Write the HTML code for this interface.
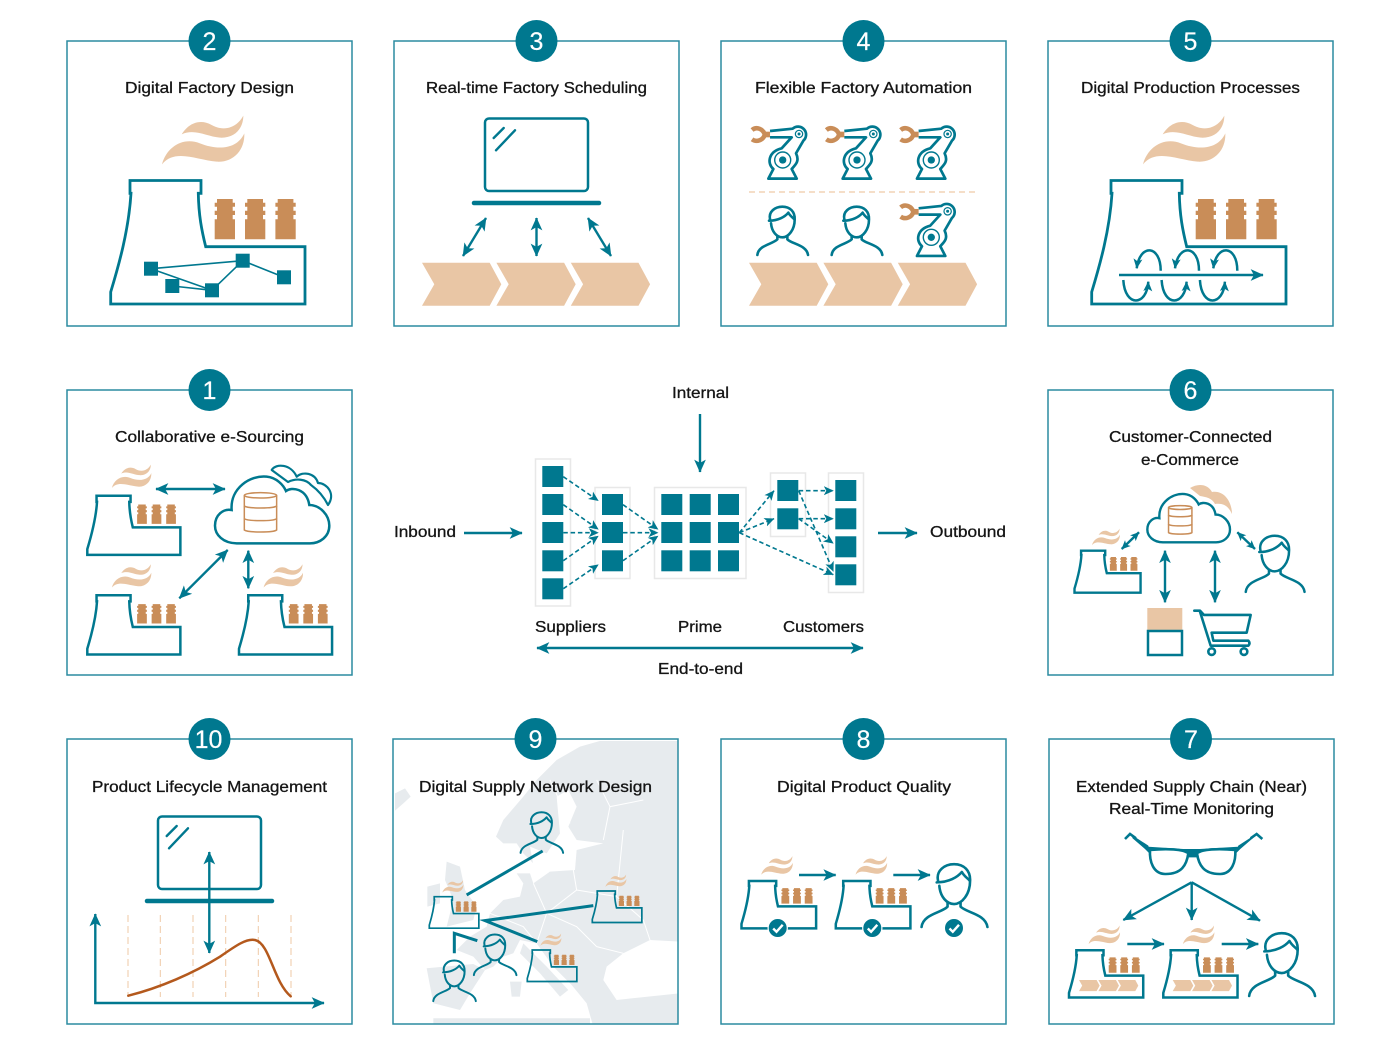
<!DOCTYPE html>
<html><head><meta charset="utf-8"><style>
html,body{margin:0;padding:0;background:#fff}
svg{display:block}
svg *{vector-effect:non-scaling-stroke}
text{font-family:"Liberation Sans",sans-serif;font-size:16px;fill:#141414;stroke:#141414;stroke-width:.3}
.n{fill:#fff;stroke:#fff;stroke-width:.2;font-size:25px;text-anchor:middle}
.p{fill:none;stroke:#2b8ba1;stroke-width:1.5}
.t{fill:none;stroke:#00788f;stroke-width:2.5;stroke-linecap:round;stroke-linejoin:round}
.ar{fill:none;stroke:#00788f;stroke-width:2.4}
.d{fill:none;stroke:#00788f;stroke-width:1.6;stroke-dasharray:4.5 2.8;marker-end:url(#md)}
.fr{fill:#fff;stroke:#e8e8e8;stroke-width:1.5}
.sq{fill:#00788f}
.nt{fill:none;stroke:#00788f;stroke-width:1.6}
.od{fill:none;stroke:#efc9a6;stroke-width:1.2;stroke-dasharray:6 4}
</style></head><body>
<svg xmlns="http://www.w3.org/2000/svg" width="1400" height="1038" viewBox="0 0 1400 1038">
<defs>
<marker id="a" viewBox="0 0 10 10" refX="9.5" refY="5" markerWidth="13" markerHeight="13" markerUnits="userSpaceOnUse" orient="auto-start-reverse"><path d="M0 0.5L10 5L0 9.5L2.5 5Z" fill="#00788f"/></marker>
<marker id="b" viewBox="0 0 10 10" refX="9.5" refY="5" markerWidth="9" markerHeight="9" markerUnits="userSpaceOnUse" orient="auto-start-reverse"><path d="M0 0.5L10 5L0 9.5L2.5 5Z" fill="#00788f"/></marker>
<marker id="md" viewBox="0 0 10 10" refX="9.5" refY="5" markerWidth="10" markerHeight="10" markerUnits="userSpaceOnUse" orient="auto"><path d="M0 0.5L10 5L0 9.5L2.5 5Z" fill="#00788f"/></marker>
<path id="ch" d="M2.3 0H18V3.7H20.3V7.7H18V11.7H20.3V16H18V20.3H20.3V40.3H0V20.3H2.3V16H0V11.7H2.3V7.7H0V3.7H2.3Z" fill="#c98d58" stroke="none"/>
<g id="f">
<g transform="translate(-50.7,-80.5) scale(.3333)" fill="#e9c6a5" stroke="none">
<path d="M365 103C385 70 420 55 455 75C490 95 530 85 550 47C550 85 525 115 480 113C440 110 405 85 365 103Z"/>
<path d="M306 193C320 140 370 110 420 130C470 150 530 150 553 100C555 150 520 188 470 185C410 180 345 145 306 193Z"/>
</g>
<use href="#ch" x="104" y="18.5"/><use href="#ch" x="134.3" y="18.5"/><use href="#ch" x="164.7" y="18.5"/>
<path d="M0 123.5V111.5C8 85 18 50 20.3 12.8H19.3V0H90.3V12.8H87.6C88 35 91 50 95 66.2H194.3V123.5Z" fill="none" stroke="#00788f" stroke-linejoin="miter"/>
</g>
<g id="chev"><path id="c1" d="M0 0H67.7L79.3 21.5L67.7 43H0L12.3 21.5Z" fill="#e9c6a5"/><use href="#c1" x="74.4"/><use href="#c1" x="148.8"/></g>
<g id="robot" transform="scale(.3333) translate(-92,-78)">
<path d="M96 90C110 78 130 88 134 104C130 120 110 128 96 118" fill="none" stroke="#c98d58" stroke-width="4.5"/>
<rect x="130" y="95" width="20" height="17" fill="#c98d58"/>
<path d="M150 93L218 86A24 24 0 1 1 250 122L228 160C240 185 225 195 215 207L230 236H145L160 207C140 190 145 155 185 145L215 112L150 112" fill="none" stroke="#00788f" stroke-width="2.7" stroke-linejoin="round"/>
<circle cx="237" cy="102" r="11" fill="none" stroke="#00788f" stroke-width="1.2"/><circle cx="237" cy="102" r="4.5" fill="#00788f"/>
<circle cx="188" cy="180" r="24" fill="none" stroke="#00788f" stroke-width="1.4"/><circle cx="188" cy="180" r="11" fill="#00788f"/>
</g>
<g id="person" transform="scale(.3333) translate(-110,-318)" fill="none" stroke="#00788f" stroke-linecap="round" stroke-linejoin="round">
<path d="M147 362C175 362 195 350 205 338C210 348 218 352 223 358"/>
<path d="M150 358C145 335 165 320 187 320C210 320 225 335 224 358C224 390 205 412 187 412C170 412 155 395 153 370"/>
<path d="M172 408V418C160 432 115 435 112 465"/>
<path d="M202 408V418C215 432 260 435 264 465"/>
</g>
<g id="laptop"><rect x="485" y="118.5" width="103" height="72.5" rx="4" fill="none" stroke="#00788f" stroke-width="2.5"/><path d="M474 203H599" stroke="#00788f" stroke-width="4.5" stroke-linecap="round"/><path d="M493.7 138L503.7 128M496 150.3L515 130.3" stroke="#00788f" stroke-width="2.4" stroke-linecap="round"/></g>
<g id="cloud"><path d="M500 265C460 265 435 240 435 212C435 180 460 160 485 165C480 100 540 60 590 65C620 68 640 90 648 108C665 95 710 100 718 150C750 150 778 180 778 212C778 245 750 265 720 265Z" fill="none" stroke="#00788f"/>
<g transform="translate(523,113)" fill="none" stroke="#c98d58" stroke-width="1.5"><ellipse cx="48.5" cy="8" rx="48.5" ry="8"/><path d="M0 8V40C10 48 87 48 97 40V8"/><path d="M0 40V78C10 86 87 86 97 78V40"/><path d="M0 78V112C10 120 87 120 97 112V78"/></g></g>
<clipPath id="mapclip"><rect x="393" y="741" width="285" height="283"/></clipPath>
<g id="chk"><circle r="9.6" fill="#00788f" stroke="#fff" stroke-width="1.2"/><path d="M-4.5 .5L-1.2 3.8L5 -3.2" fill="none" stroke="#fff" stroke-width="2.4"/></g>
<g id="loop"><path class="t" style="stroke-linecap:butt" d="M1160.7 270.7C1160.7 245 1140 243 1136.7 268.3" marker-end="url(#md)"/><path class="t" style="stroke-linecap:butt" d="M1123.3 280C1125 308 1147 306 1148.3 281.7" marker-end="url(#md)"/></g>
</defs>

<!-- Map -->
<g clip-path="url(#mapclip)">
<g transform="translate(390,740) scale(.3333)" fill="#e7ebee" stroke="none">
<path d="M318 290L340 240L400 170L440 120L500 60L570 20L640 0H870V605L780 600L700 640L650 680L640 720L680 780L870 760V860H610L590 790L545 735L490 680L440 610L390 600L370 640L340 650L310 680L285 690L250 650L200 630L240 590L290 560L300 520L340 480L390 470L400 430L380 400L420 400L430 430L480 395L430 370L400 340L380 310L340 310Z"/>
<path d="M500 170L535 150L560 200L535 260L560 300L640 310L560 330L555 390L480 395L430 375L420 320L470 340L510 280Z" fill="#fff"/>
<path d="M110 685L250 672L285 690L240 760L210 810L130 790Z"/>
<path d="M400 610L470 680L535 750L510 770L450 700L390 640Z"/>
<path d="M170 365L210 380L225 450L260 500L250 540L170 560L190 480L165 420Z"/>
<path d="M112 440L150 430L150 490L112 500Z"/>
<path d="M15 160L45 145L62 170L40 190L15 212Z"/>
<path d="M360 725L395 725L390 770L365 770Z"/>
<path d="M130 835H600V860H130Z"/>
</g>
<g transform="translate(390,740) scale(.3333)" fill="none" stroke="#fff" stroke-width="1">
<path d="M430 430L470 520L440 610M470 520L560 450L550 390M560 450L680 470L760 540L780 600M620 620L560 560L470 520M620 620L700 640M680 470L700 270M480 120L540 250M620 120L660 200L760 180M300 520L400 560L440 610M660 200L640 300"/>
</g>
</g>

<!-- Panels -->
<rect class="p" x="67" y="41" width="285" height="285"/>
<rect class="p" x="394" y="41" width="285" height="285"/>
<rect class="p" x="721" y="41" width="285" height="285"/>
<rect class="p" x="1048" y="41" width="285" height="285"/>
<rect class="p" x="67" y="390" width="285" height="285"/>
<rect class="p" x="1048" y="390" width="285" height="285"/>
<rect class="p" x="67" y="739" width="285" height="285"/>
<rect class="p" x="393" y="739" width="285" height="285"/>
<rect class="p" x="721" y="739" width="285" height="285"/>
<rect class="p" x="1049" y="739" width="285" height="285"/>

<!-- Badges -->
<g fill="#00788f">
<circle cx="209.5" cy="41" r="21"/><circle cx="536.5" cy="41" r="21"/><circle cx="863.5" cy="41" r="21"/><circle cx="1190.5" cy="41" r="21"/>
<circle cx="209.5" cy="390" r="21"/><circle cx="1190.5" cy="390" r="21"/>
<circle cx="209.5" cy="739" r="21"/><circle cx="535.5" cy="739" r="21"/><circle cx="863.5" cy="739" r="21"/><circle cx="1191" cy="739" r="21"/>
</g>
<text class="n" x="209.5" y="50">2</text><text class="n" x="536.5" y="50">3</text><text class="n" x="863.5" y="50">4</text><text class="n" x="1190.5" y="50">5</text>
<text class="n" x="209.5" y="399">1</text><text class="n" x="1190.5" y="399">6</text>
<text class="n" x="208.5" y="748">10</text><text class="n" x="535.5" y="748">9</text><text class="n" x="863.5" y="748">8</text><text class="n" x="1191" y="748">7</text>

<!-- Titles -->
<text x="125" y="93" textLength="169" lengthAdjust="spacingAndGlyphs">Digital Factory Design</text>
<text x="426" y="93" textLength="221" lengthAdjust="spacingAndGlyphs">Real-time Factory Scheduling</text>
<text x="755" y="93" textLength="217" lengthAdjust="spacingAndGlyphs">Flexible Factory Automation</text>
<text x="1081" y="93" textLength="219" lengthAdjust="spacingAndGlyphs">Digital Production Processes</text>
<text x="115" y="442" textLength="189" lengthAdjust="spacingAndGlyphs">Collaborative e-Sourcing</text>
<text x="1109" y="442" textLength="163" lengthAdjust="spacingAndGlyphs">Customer-Connected</text>
<text x="1141" y="465" textLength="98" lengthAdjust="spacingAndGlyphs">e-Commerce</text>
<text x="92" y="792" textLength="235" lengthAdjust="spacingAndGlyphs">Product Lifecycle Management</text>
<text x="419" y="792" textLength="233" lengthAdjust="spacingAndGlyphs">Digital Supply Network Design</text>
<text x="777" y="792" textLength="174" lengthAdjust="spacingAndGlyphs">Digital Product Quality</text>
<text x="1076" y="792" textLength="231" lengthAdjust="spacingAndGlyphs">Extended Supply Chain (Near)</text>
<text x="1109" y="814" textLength="165" lengthAdjust="spacingAndGlyphs">Real-Time Monitoring</text>

<!-- Panel 2 -->
<use href="#f" transform="translate(110.7,180.5)" stroke-width="2.8"/>
<path class="nt" d="M151 268.7L242.7 260.7L284 277.3M151 268.7L212 290.3L172.3 286M212 290.3L242.7 260.7"/>
<g class="sq"><rect x="144" y="261.7" width="14" height="14"/><rect x="165.3" y="279" width="14" height="14"/><rect x="205" y="283.3" width="14" height="14"/><rect x="235.7" y="253.7" width="14" height="14"/><rect x="277" y="270.3" width="14" height="14"/></g>

<!-- Panel 3 -->
<use href="#laptop"/>
<use href="#chev" x="422" y="262.7"/>
<path class="ar" d="M486 218L463 256" marker-start="url(#a)" marker-end="url(#a)"/><path class="ar" d="M536.5 218V256" marker-start="url(#a)" marker-end="url(#a)"/><path class="ar" d="M588 218L611 256" marker-start="url(#a)" marker-end="url(#a)"/>

<!-- Panel 4 -->
<use href="#robot" transform="translate(750.7,126)"/><use href="#robot" transform="translate(825,126)"/><use href="#robot" transform="translate(899.3,126)"/>
<path class="od" d="M749 192H978"/>
<use href="#person" transform="translate(756.7,206)" stroke-width="2.6"/><use href="#person" transform="translate(831,206)" stroke-width="2.6"/>
<use href="#robot" transform="translate(899.3,203.3)"/>
<use href="#chev" x="749" y="262.7"/>

<!-- Panel 5 -->
<use href="#f" transform="translate(1091.7,180.5)" stroke-width="2.8"/>
<path class="ar" d="M1119 275H1263" marker-end="url(#a)"/>
<use href="#loop"/><use href="#loop" x="38.3"/><use href="#loop" x="76.6"/>

<!-- Panel 1 -->
<use href="#f" transform="translate(87.3,495.7) scale(.479)" stroke-width="2.5"/>
<use href="#f" transform="translate(87.3,595.3) scale(.479)" stroke-width="2.5"/>
<use href="#f" transform="translate(239,595.3) scale(.479)" stroke-width="2.5"/>
<use href="#cloud" transform="translate(70,455) scale(.3333)" stroke-width="2.5"/>
<path d="M271.7 470C276 463 291 464 296.7 476.7C303 471 315 473 318 483C327 483 336 494 328 505C324 497 318 490 311 485C306 479 296 478 288 482Z" fill="none" stroke="#00788f" stroke-width="2.2" stroke-linejoin="round"/>
<path class="ar" d="M156 489H225" marker-start="url(#a)" marker-end="url(#a)"/>
<path class="ar" d="M227.7 550L179.3 598.3" marker-start="url(#a)" marker-end="url(#a)"/>
<path class="ar" d="M248.3 550.7V588.3" marker-start="url(#a)" marker-end="url(#a)"/>

<!-- Centre -->
<text x="672" y="398" textLength="57" lengthAdjust="spacingAndGlyphs">Internal</text>
<text x="394" y="537" textLength="62" lengthAdjust="spacingAndGlyphs">Inbound</text>
<text x="930" y="537" textLength="76" lengthAdjust="spacingAndGlyphs">Outbound</text>
<text x="535" y="632" textLength="71" lengthAdjust="spacingAndGlyphs">Suppliers</text>
<text x="678" y="632" textLength="44" lengthAdjust="spacingAndGlyphs">Prime</text>
<text x="783" y="632" textLength="81" lengthAdjust="spacingAndGlyphs">Customers</text>
<text x="658" y="674" textLength="85" lengthAdjust="spacingAndGlyphs">End-to-end</text>
<rect class="fr" x="535.5" y="459" width="35" height="147"/>
<rect class="fr" x="595" y="487.5" width="35" height="91"/>
<rect class="fr" x="654.5" y="487.5" width="91.5" height="91"/>
<rect class="fr" x="770.5" y="473" width="35" height="63.5"/>
<rect class="fr" x="828.5" y="473" width="35" height="119.5"/>
<g class="sq">
<rect x="542.3" y="466" width="21" height="21"/><rect x="542.3" y="494" width="21" height="21"/><rect x="542.3" y="522" width="21" height="21"/><rect x="542.3" y="550.3" width="21" height="21"/><rect x="542.3" y="578.3" width="21" height="21"/>
<rect x="602" y="494" width="21" height="21"/><rect x="602" y="522" width="21" height="21"/><rect x="602" y="550.3" width="21" height="21"/>
<rect x="661.3" y="494" width="21" height="21"/><rect x="689.7" y="494" width="21" height="21"/><rect x="718" y="494" width="21" height="21"/>
<rect x="661.3" y="522" width="21" height="21"/><rect x="689.7" y="522" width="21" height="21"/><rect x="718" y="522" width="21" height="21"/>
<rect x="661.3" y="550.3" width="21" height="21"/><rect x="689.7" y="550.3" width="21" height="21"/><rect x="718" y="550.3" width="21" height="21"/>
<rect x="777.3" y="480" width="21" height="21"/><rect x="777.3" y="508.3" width="21" height="21"/>
<rect x="835.3" y="480" width="21" height="21"/><rect x="835.3" y="508.3" width="21" height="21"/><rect x="835.3" y="536.3" width="21" height="21"/><rect x="835.3" y="564.3" width="21" height="21"/>
</g>
<path class="d" d="M563.3 476.7L598.3 500.7"/><path class="d" d="M563.3 504.7L598.3 529.3"/><path class="d" d="M563.3 532.7H598.3"/><path class="d" d="M563.3 560.7L598.3 536"/><path class="d" d="M563.3 588.7L598.3 564.7"/>
<path class="d" d="M623 504.7L658 529.3"/><path class="d" d="M623 532.7H658"/><path class="d" d="M623 560.7L658 536"/>
<path class="d" d="M739.3 532.7L774 490.7"/><path class="d" d="M739.3 532.7L774 518.7"/><path class="d" d="M739.3 532.7L833.3 574.7"/>
<path class="d" d="M798.7 490.7H833.3"/><path class="d" d="M798.7 518.7H833.3"/><path class="d" d="M798.7 518.7L833.3 543.3"/><path class="d" d="M798.7 490.7L833.3 571.3"/>
<path class="ar" d="M464 533H522" marker-end="url(#a)"/>
<path class="ar" d="M878 533H917" marker-end="url(#a)"/>
<path class="ar" d="M700 414V472" marker-end="url(#a)"/>
<path class="ar" d="M537 648H863" marker-start="url(#a)" marker-end="url(#a)"/>

<!-- Panel 6 -->
<path d="M1190 488C1198 483 1208 484 1212 492C1225 490 1232 503 1232 514C1228 505 1222 503 1215 504C1212 498 1206 497 1200 496Z" fill="#e9c6a5"/>
<use href="#cloud" transform="translate(1042.5,478.4) scale(.241)" stroke-width="2.4"/>
<use href="#f" transform="translate(1074.5,550.7) scale(.34)" stroke-width="2.4"/>
<use href="#person" transform="translate(1245,535) scale(1.16)" stroke-width="2.5"/>
<path class="ar" d="M1139 532.3L1121.7 549" marker-start="url(#b)" marker-end="url(#b)"/>
<path class="ar" d="M1165 550.7V602.3" marker-start="url(#a)" marker-end="url(#a)"/>
<path class="ar" d="M1215 550.7V602.3" marker-start="url(#a)" marker-end="url(#a)"/>
<path class="ar" d="M1237.3 532.3L1255 549" marker-start="url(#b)" marker-end="url(#b)"/>
<rect x="1147.3" y="608" width="35" height="22.7" fill="#e9c6a5"/>
<rect x="1148" y="631" width="34" height="24" fill="none" stroke="#00788f" stroke-width="2.5"/>
<g transform="translate(1060,480) scale(.3333)" fill="none" stroke="#00788f" stroke-width="2.6" stroke-linejoin="round" stroke-linecap="round">
<path d="M403 392H420L432 405H572L560 458H455L460 482H565Q572 490 565 497H452L420 395"/>
<circle cx="455" cy="515" r="10"/><circle cx="552" cy="515" r="10"/>
</g>

<!-- Panel 10 -->
<use href="#laptop" x="-327" y="698"/>
<g class="od" style="stroke-dasharray:7 4;stroke-width:1"><path d="M128 915V997"/><path d="M160.3 915V997"/><path d="M193 915V997"/><path d="M225.7 915V997"/><path d="M258.3 915V997"/><path d="M291 915V997"/></g>
<path d="M128.3 995.7C160 987.7 193.3 973.3 220 956.7C236.7 945 246.7 938.3 255 940C270 943.3 273.3 981.7 290.7 996.3" fill="none" stroke="#b4591d" stroke-width="2.5" stroke-linecap="round"/>
<path class="ar" d="M95.3 914V1003H324" marker-start="url(#a)" marker-end="url(#a)"/>
<path class="ar" d="M209.3 852V953" marker-start="url(#a)" marker-end="url(#a)"/>

<!-- Panel 9 -->
<use href="#f" transform="translate(429.3,896.7) scale(.255)" stroke-width="1.7"/>
<use href="#f" transform="translate(592.3,891) scale(.255)" stroke-width="1.7"/>
<use href="#f" transform="translate(527.3,950) scale(.255)" stroke-width="1.7"/>
<use href="#person" transform="translate(520,811.7) scale(.84)" stroke-width="2"/>
<use href="#person" transform="translate(473.3,934) scale(.84)" stroke-width="2"/>
<use href="#person" transform="translate(432.7,960) scale(.84)" stroke-width="2"/>
<g transform="translate(390,740) scale(.3333)" fill="none" stroke="#00788f" stroke-width="3">
<path d="M230 465L458 333"/><path d="M610 497L285 542L442 605"/><path d="M193 640V580L262 602"/>
</g>

<!-- Panel 8 -->
<use href="#f" transform="translate(741.5,881) scale(.384)" stroke-width="2.5"/>
<use href="#f" transform="translate(835.8,881) scale(.384)" stroke-width="2.5"/>
<use href="#person" transform="translate(920.7,863.3) scale(1.3)" stroke-width="2.6"/>
<path class="ar" d="M799 875H835.7" marker-end="url(#a)"/>
<path class="ar" d="M893.3 875H930" marker-end="url(#a)"/>
<use href="#chk" x="777.7" y="928"/><use href="#chk" x="872.3" y="928"/><use href="#chk" x="954" y="928"/>

<!-- Panel 7 -->
<g transform="translate(1050,825) scale(.3333)">
<g fill="none" stroke="#00788f" stroke-width="2.6">
<path d="M300 75C350 70 400 72 415 85C410 120 395 148 345 147C310 146 298 110 300 75Z"/>
<path d="M556 75C506 70 456 72 441 85C446 120 461 148 511 147C546 146 558 110 556 75Z"/>
<path d="M225 42L240 27L258 40"/><path d="M637 42L620 27L602 40"/>
</g>
<path d="M243 28L295 62L303 90L285 72L248 40ZM617 28L565 62L553 90L571 72L608 40Z" fill="#00788f"/>
<path d="M290 65L400 72H450L570 65L556 78C500 70 465 72 445 85L443 97H413L411 85C390 72 350 70 300 78Z" fill="#00788f"/>
</g>
<path class="ar" d="M1191.7 882.3L1123.3 920" marker-end="url(#a)"/>
<path class="ar" d="M1191.7 882.3V920" marker-end="url(#a)"/>
<path class="ar" d="M1191.7 882.3L1260 920.7" marker-end="url(#a)"/>
<use href="#f" transform="translate(1069,950.3) scale(.382)" stroke-width="2.5"/>
<use href="#f" transform="translate(1163.3,950.3) scale(.382)" stroke-width="2.5"/>
<use href="#chev" transform="translate(1079,980) scale(.26)"/>
<use href="#chev" transform="translate(1172.7,980) scale(.26)"/>
<path class="ar" d="M1127.3 944H1164" marker-end="url(#a)"/>
<path class="ar" d="M1221.7 944H1258.3" marker-end="url(#a)"/>
<use href="#person" transform="translate(1248.3,932.3) scale(1.3)" stroke-width="2.6"/>
</svg>
</body></html>
